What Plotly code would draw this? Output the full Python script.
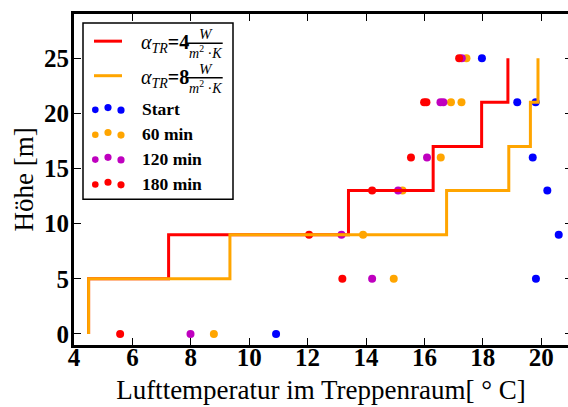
import plotly.graph_objects as go

# ---------------- data ----------------
heights_step = [0, 5, 9, 13, 17, 21, 25]
temp_alpha4 = [4.50, 7.24, 13.40, 16.30, 17.96, 18.86, 18.86]
temp_alpha8 = [4.50, 9.34, 16.76, 18.89, 19.63, 19.89, 19.89]

start_T = [10.92, 19.82, 20.60, 20.21, 19.71, 19.18, 19.81, 17.97]
start_H = [0, 5, 9, 13, 16, 21, 21, 25]
min60_T = [8.79, 14.95, 13.90, 15.25, 16.56, 16.91, 17.27, 17.44]
min60_H = [0, 5, 9, 13, 16, 21, 21, 25]
min120_T = [7.99, 14.21, 13.16, 15.10, 16.09, 16.55, 16.65, 17.28]
min120_H = [0, 5, 9, 13, 16, 21, 21, 25]
min180_T = [5.58, 13.19, 12.05, 14.21, 15.54, 15.99, 16.07, 17.19]
min180_H = [0, 5, 9, 13, 16, 21, 21, 25]

x_ticks = [4, 6, 8, 10, 12, 14, 16, 18, 20]
y_ticks = [0, 5, 10, 15, 20, 25]
legend_labels = ["Start", "60 min", "120 min", "180 min"]
alpha_values = ["4", "8"]

# ---------------- style ----------------
RED = "#FF0000"
ORANGE = "#FFA500"
BLUE = "#0000FF"
MAGENTA = "#BF00BF"
FONT = "Liberation Serif"

W, H = 568, 407
L, R, T, B = 74, 0, 13.5, 62
PW, PH = W - L - R, H - T - B


def px(x):
    return (x - L) / PW


def py(y):
    return (H - B - y) / PH


fig = go.Figure()

dot_series = [
    (start_T, start_H, BLUE),
    (min60_T, min60_H, ORANGE),
    (min120_T, min120_H, MAGENTA),
    (min180_T, min180_H, RED),
]
for xs, ys, c in dot_series:
    fig.add_trace(go.Scatter(x=xs, y=ys, mode="markers",
                             marker=dict(size=8, color=c, line=dict(width=0)),
                             showlegend=False, hoverinfo="skip"))

for xs, c in [(temp_alpha4, RED), (temp_alpha8, ORANGE)]:
    fig.add_trace(go.Scatter(x=xs, y=heights_step, mode="lines",
                             line=dict(color=c, width=3, shape="vh"),
                             showlegend=False, hoverinfo="skip"))

# trace bound to the right-hand tick axis
fig.add_trace(go.Scatter(x=[None], y=[None], yaxis="y2", showlegend=False,
                         hoverinfo="skip"))

# ---------------- manual legend ----------------
shapes = []
annotations = []
shapes.append(dict(type="rect", xref="paper", yref="paper",
                   x0=px(83), x1=px(233), y0=py(22.5), y1=py(199),
                   line=dict(color="black", width=1.5), fillcolor="white",
                   layer="above"))

line_rows = [(40.7, RED), (75.3, ORANGE)]
for (yy, c), av in zip(line_rows, alpha_values):
    shapes.append(dict(type="line", xref="paper", yref="paper",
                       x0=px(94), x1=px(122), y0=py(yy), y1=py(yy),
                       line=dict(color=c, width=3), layer="above"))
    annotations.append(dict(xref="paper", yref="paper", x=px(139), y=py(yy + 2.5),
                            xanchor="left", yanchor="middle", showarrow=False,
                            text="<i>α</i><sub><i>TR</i></sub><b>=" + av + "</b>",
                            font=dict(family=FONT, size=20, color="black")))
    shapes.append(dict(type="line", xref="paper", yref="paper",
                       x0=px(187), x1=px(222.7), y0=py(yy + 2), y1=py(yy + 2),
                       line=dict(color="black", width=1.5), layer="above"))
    annotations.append(dict(xref="paper", yref="paper", x=px(206), y=py(yy - 7.0),
                            xanchor="center", yanchor="middle", showarrow=False,
                            text="<i>W</i>",
                            font=dict(family=FONT, size=15, color="black")))
    annotations.append(dict(xref="paper", yref="paper", x=px(205), y=py(yy + 11),
                            xanchor="center", yanchor="middle", showarrow=False,
                            text="<i>m</i><sup>2</sup> ·<i>K</i>",
                            font=dict(family=FONT, size=14, color="black")))

dot_rows = [108.5, 133.5, 158.3, 183.3]
dot_colors = [BLUE, ORANGE, MAGENTA, RED]
for yy, c, lab in zip(dot_rows, dot_colors, legend_labels):
    for dx, dy, r in [(95.3, 1.0, 3.3), (108, -1.3, 3.6), (121, 1.3, 3.6)]:
        shapes.append(dict(type="circle", xref="paper", yref="paper",
                           x0=px(dx - r), x1=px(dx + r),
                           y0=py(yy + dy + r), y1=py(yy + dy - r),
                           fillcolor=c, line=dict(width=0), layer="above"))
    annotations.append(dict(xref="paper", yref="paper", x=px(140), y=py(yy),
                            xanchor="left", yanchor="middle", showarrow=False,
                            text="<b>" + lab + "</b>",
                            font=dict(family=FONT, size=17.5, color="black")))

axis_common = dict(showgrid=False, zeroline=False, ticks="inside", ticklen=7,
                   tickwidth=1, tickcolor="black", showline=True, linewidth=3,
                   linecolor="black")

fig.update_layout(
    width=W, height=H,
    margin=dict(l=L, r=R, t=T, b=B, pad=0),
    paper_bgcolor="white", plot_bgcolor="white",
    xaxis=dict(range=[4, 4 + PW / 29.2], tickvals=x_ticks, mirror="ticks",
               tickfont=dict(family=FONT, size=25, color="black", weight="bold"),
               ticklabelstandoff=-12,
               title=dict(text="Lufttemperatur im Treppenraum[ ° C]",
                          font=dict(family=FONT, size=27, color="black"),
                          standoff=11),
               **axis_common),
    yaxis=dict(range=[-1, 29], tickvals=y_ticks, mirror=False,
               tickfont=dict(family=FONT, size=25, color="black", weight="bold"),
               ticklabelstandoff=-3,
               title=dict(text="Höhe [m]",
                          font=dict(family=FONT, size=27, color="black"),
                          standoff=3),
               **axis_common),
    yaxis2=dict(range=[-1, 29], tickvals=y_ticks, overlaying="y", side="right",
                anchor="x", showgrid=False, zeroline=False, ticks="inside",
                ticklen=3, tickwidth=1, tickcolor="black", showline=False,
                showticklabels=False),
    shapes=shapes,
    annotations=annotations,
)

fig.write_html("out.html")
